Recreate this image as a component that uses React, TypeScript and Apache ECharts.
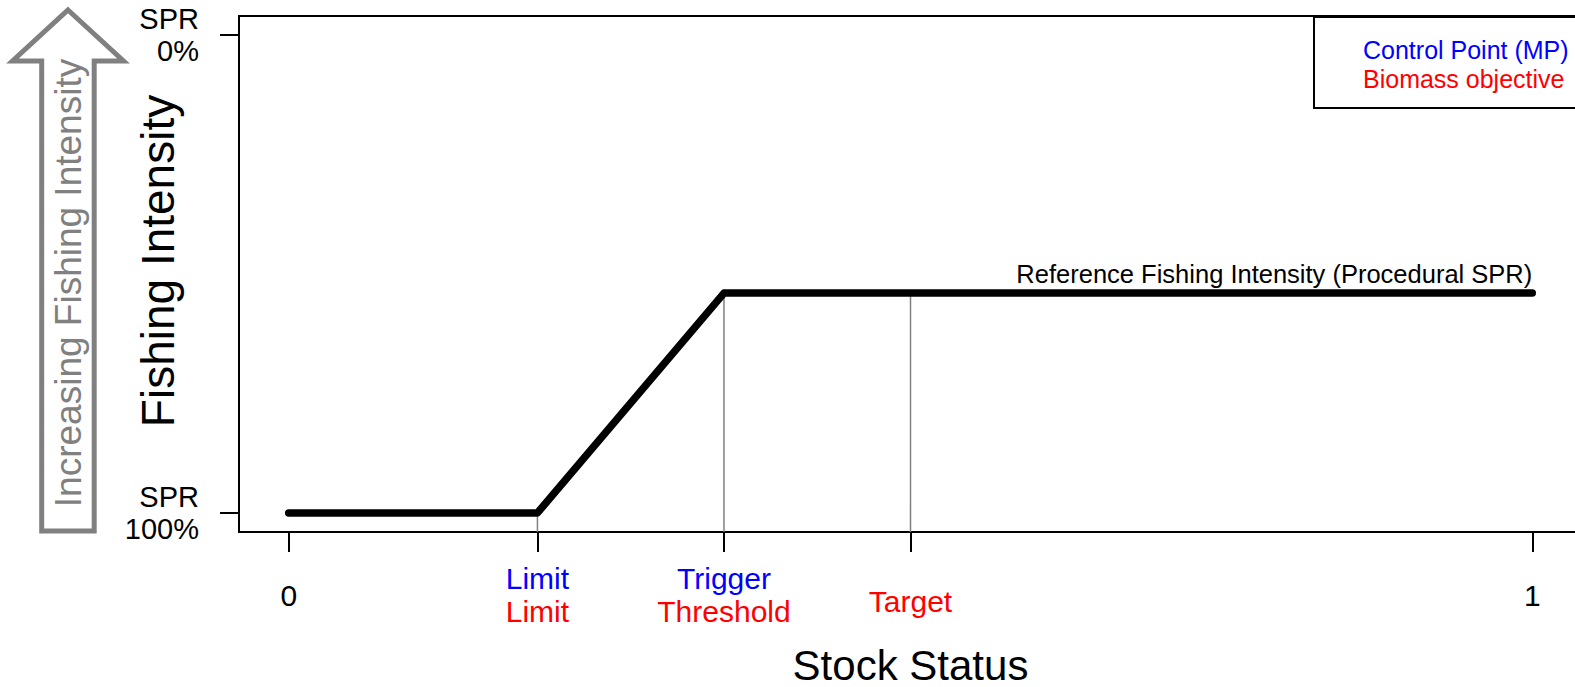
import React, { useEffect, useRef } from "react";
import * as echarts from "echarts";

// ---- data ----
const stockStatus = [0, 0.2, 0.35, 1];
const fishingIntensity = [0, 0, 0.46, 0.46];
const xTickValues = [0, 0.2, 0.35, 0.5, 1];
const xTickLabels = ["0", "{b|Limit}\n{r|Limit}", "{b|Trigger}\n{r|Threshold}", "{sp| }\n{r|Target}", "1"];
const yTickValues = [0, 1];
const yTickLabels = ["SPR\n100%", "SPR\n0%"];
const refLineX = [0.2, 0.35, 0.5];
const refLineTop = [0, 0.46, 0.46];
const refLabel = "Reference Fishing Intensity (Procedural SPR)";
const legendItems = ["Control Point (MP)", "Biomass objective"];
const legendColors = ["#0000ff", "#ff0000"];

const FONT = "'Liberation Sans', Arial, sans-serif";

export default function App() {
  const ref = useRef<HTMLDivElement>(null);
  useEffect(() => {
    if (!ref.current) return;
    const chart = echarts.init(ref.current, null, { renderer: "svg" });
    const refSeries = refLineX.map((x, i) => ({
      type: "line",
      data: [
        [x, -0.04],
        [x, refLineTop[i]],
      ],
      symbol: "none",
      silent: true,
      z: 1,
      lineStyle: { color: "#808080", width: 1.5 },
    }));
    const option: any = {
      animation: false,
      textStyle: { fontFamily: FONT },
      grid: {
        left: 239,
        top: 16,
        width: 1343,
        height: 516,
        show: true,
        borderColor: "#000",
        borderWidth: 2,
        backgroundColor: "transparent",
        containLabel: false,
        outerBoundsMode: "none",
      },
      xAxis: {
        type: "value",
        min: -0.04,
        max: 1.04,
        name: "Stock Status",
        nameLocation: "middle",
        nameGap: 133,
        nameMoveOverlap: false,
        nameTextStyle: { fontSize: 42, color: "#000", fontFamily: FONT, verticalAlign: "middle" },
        axisLine: { show: false, onZero: false },
        splitLine: { show: false },
        axisTick: {
          show: true,
          length: 20,
          customValues: xTickValues,
          lineStyle: { color: "#000", width: 2 },
        },
        axisLabel: {
          show: true,
          customValues: xTickValues,
          margin: 63,
          verticalAlign: "middle",
          fontSize: 30,
          lineHeight: 33,
          color: "#000",
          fontFamily: FONT,
          formatter: (v: number) => {
            const i = xTickValues.findIndex((t) => Math.abs(t - v) < 1e-6);
            return i >= 0 ? xTickLabels[i] : "";
          },
          rich: {
            b: { color: "#0000ff", fontSize: 30, lineHeight: 33, fontFamily: FONT },
            r: { color: "#ff0000", fontSize: 30, lineHeight: 33, fontFamily: FONT },
            sp: { fontSize: 8, lineHeight: 12 },
          },
        },
      },
      yAxis: {
        type: "value",
        min: -0.04,
        max: 1.04,
        name: "Fishing Intensity",
        nameLocation: "middle",
        nameGap: 81,
        nameMoveOverlap: false,
        nameTextStyle: {
          fontSize: 46,
          color: "#000",
          fontFamily: FONT,
          verticalAlign: "middle",
          padding: [0, 0, 0, 26],
        },
        axisLine: { show: false, onZero: false },
        splitLine: { show: false },
        axisTick: {
          show: true,
          length: 19,
          customValues: yTickValues,
          lineStyle: { color: "#000", width: 2 },
        },
        axisLabel: {
          show: true,
          customValues: yTickValues,
          margin: 40,
          fontSize: 29,
          lineHeight: 32,
          align: "right",
          color: "#000",
          fontFamily: FONT,
          formatter: (v: number) => {
            const i = yTickValues.findIndex((t) => Math.abs(t - v) < 1e-6);
            return i >= 0 ? yTickLabels[i] : "";
          },
        },
      },
      series: [
        ...refSeries,
        {
          type: "line",
          data: stockStatus.map((x, i) => [x, fishingIntensity[i]]),
          symbol: "none",
          z: 3,
          lineStyle: { color: "#000", width: 7.5, cap: "round", join: "round" },
        },
        {
          type: "custom",
          z: 4,
          silent: true,
          data: [[stockStatus[stockStatus.length - 1], fishingIntensity[fishingIntensity.length - 1]]],
          renderItem: (params: any, api: any) => {
            const p = api.coord([api.value(0), api.value(1)]);
            return {
              type: "text",
              x: p[0],
              y: p[1] - 19,
              style: {
                text: refLabel,
                align: "right",
                verticalAlign: "middle",
                fontSize: 25.5,
                fontFamily: FONT,
                fill: "#000",
              },
            };
          },
        },
      ],
      graphic: [
        {
          type: "polygon",
          shape: {
            points: [
              [68, 10],
              [123.5, 61],
              [94.2, 61],
              [94.2, 531],
              [41.7, 531],
              [41.7, 61],
              [12.5, 61],
            ],
          },
          style: { fill: "#fff", stroke: "#808080", lineWidth: 5, lineJoin: "miter" },
        },
        {
          type: "text",
          x: 68,
          y: 283,
          rotation: Math.PI / 2,
          style: {
            text: "Increasing Fishing Intensity",
            align: "center",
            verticalAlign: "middle",
            fontSize: 37,
            fontFamily: FONT,
            fill: "#808080",
          },
        },
        {
          type: "rect",
          shape: { x: 1314, y: 17, width: 300, height: 91 },
          style: { fill: "#fff", stroke: "#000", lineWidth: 2 },
        },
        ...legendItems.map((t, i) => ({
          type: "text",
          x: 1363,
          y: 50 + i * 29,
          style: {
            text: t,
            align: "left",
            verticalAlign: "middle",
            fontSize: 25,
            fontFamily: FONT,
            fill: legendColors[i],
          },
        })),
      ],
    };
    chart.setOption(option);
    return () => chart.dispose();
  }, []);
  return (
    <div
      ref={ref}
      style={{ position: "absolute", left: 0, top: 0, width: 1575, height: 687, background: "#fff" }}
    />
  );
}
